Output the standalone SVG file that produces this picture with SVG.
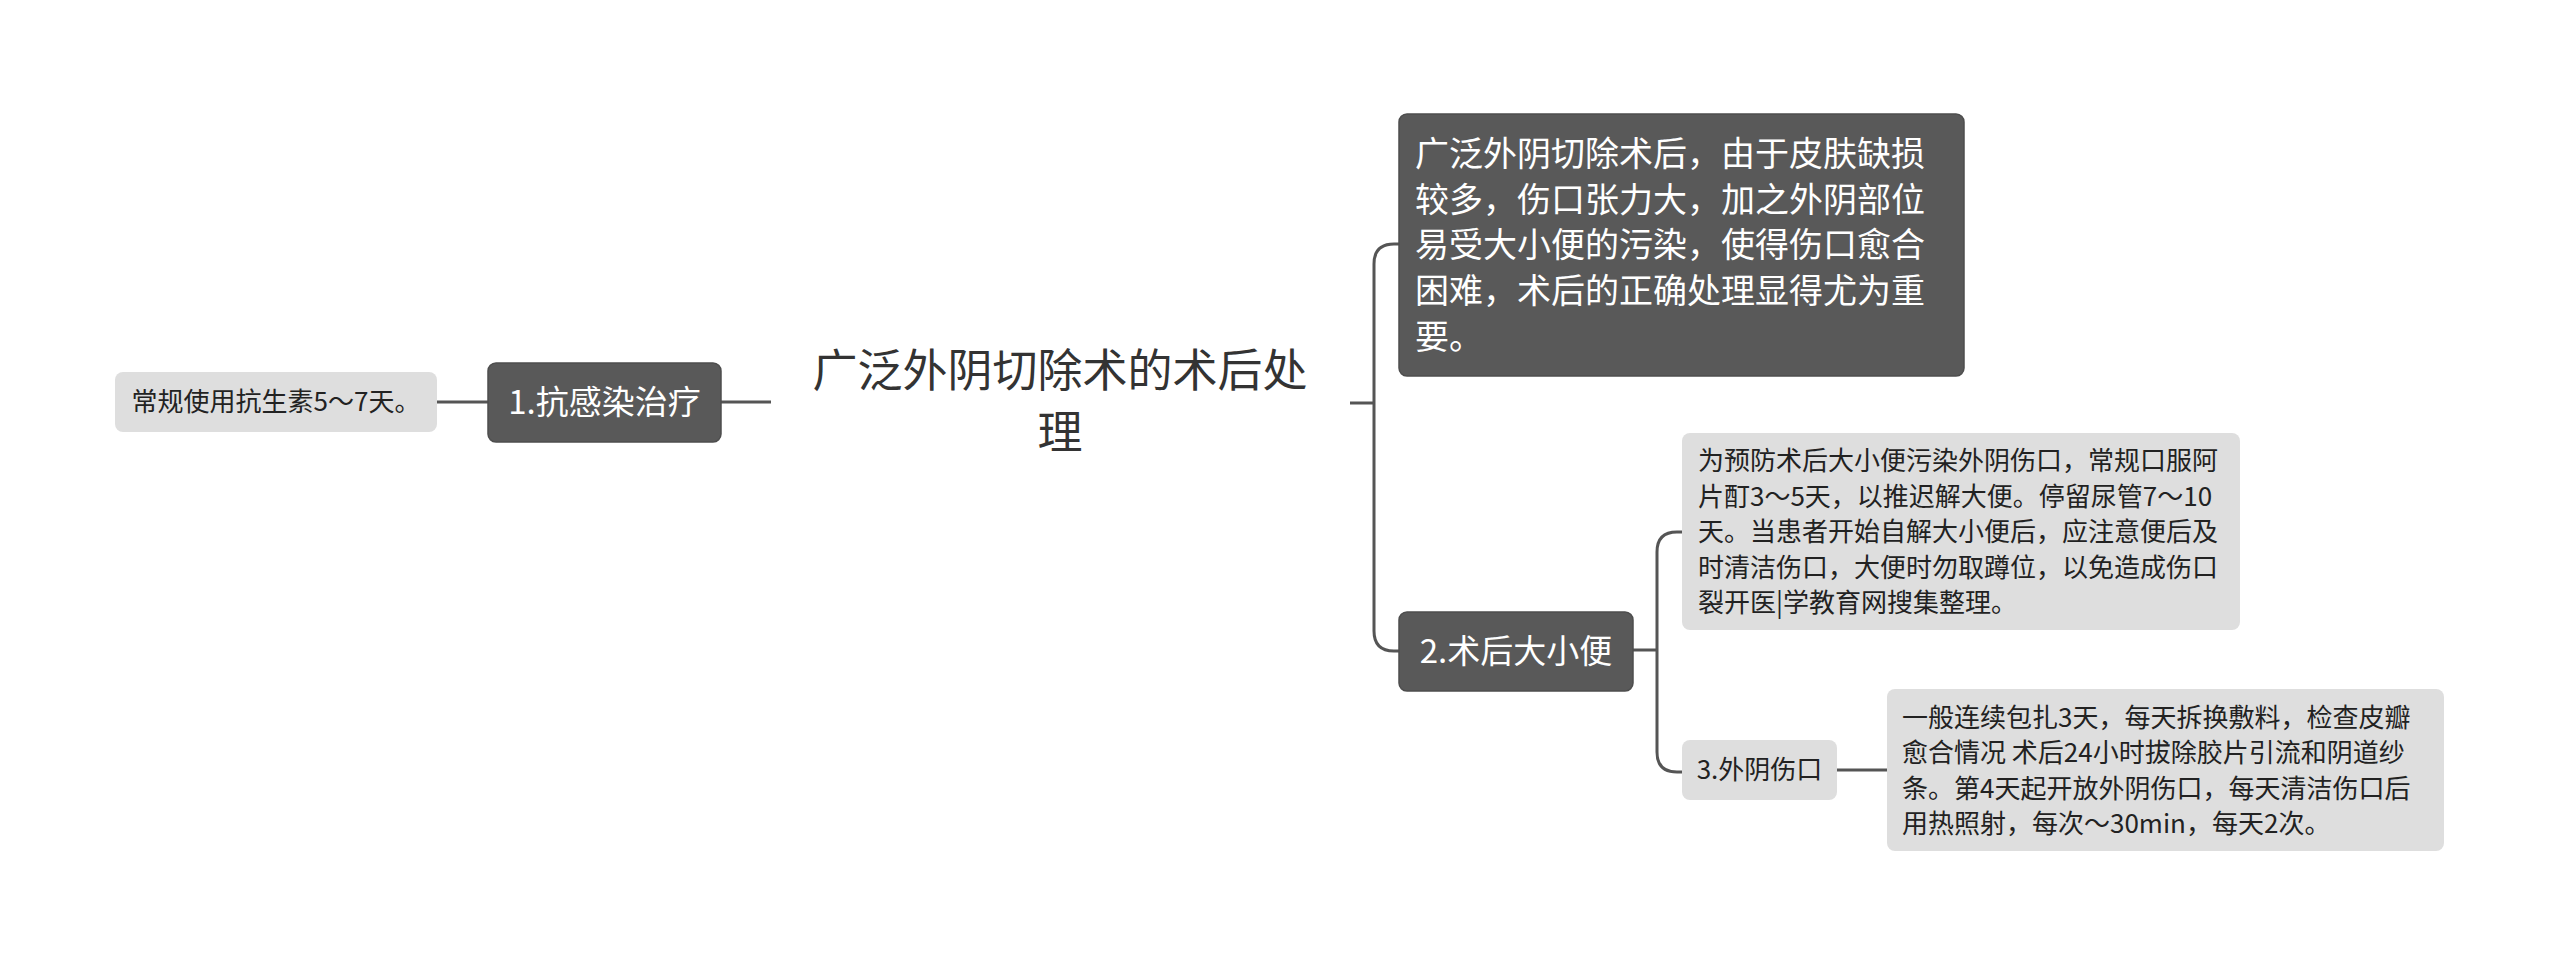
<svg xmlns="http://www.w3.org/2000/svg" width="2560" height="967" viewBox="0 0 2560 967">
<style>
.t{font-family:"Noto Sans CJK SC","Noto Sans",sans-serif}
.dark{fill:#595959;stroke:#4d4d4d;stroke-width:1.5}
.light{fill:#dedede}
.wt{fill:#ffffff}
.bt{fill:#222222}
.c{fill:none;stroke:#555555;stroke-width:3}
</style>
<rect width="2560" height="967" fill="#ffffff"/>
<g id="connectors">
<path class="c" d="M437 402 H488"/>
<path class="c" d="M721 402 H771"/>
<path class="c" d="M1350 403 H1374"/>
<path class="c" d="M1399 244 H1394 Q1374 244 1374 264 V631 Q1374 651 1394 651 H1399"/>
<path class="c" d="M1633 650 H1657"/>
<path class="c" d="M1682 532 H1677 Q1657 532 1657 552 V752 Q1657 772 1677 772 H1682"/>
<path class="c" d="M1837 770 H1887"/>
</g>
<g id="root">
<text class="t" x="1060" y="387" font-size="45" fill="#333333" text-anchor="middle">广泛外阴切除术的术后处</text>
<text class="t" x="1060" y="449" font-size="45" fill="#333333" text-anchor="middle">理</text>
</g>
<g id="node-antiinfection">
<rect class="dark" x="488" y="363" width="233" height="79" rx="8"/>
<text class="t wt" x="604.5" y="414" font-size="33" text-anchor="middle">1.抗感染治疗</text>
</g>
<g id="leaf-antibiotic">
<rect class="light" x="115" y="372" width="322" height="60" rx="8"/>
<text class="t bt" x="276" y="411" font-size="26" text-anchor="middle">常规使用抗生素5～7天。</text>
</g>
<g id="node-intro">
<rect class="dark" x="1399" y="114" width="565" height="262" rx="8"/>
<text class="t wt" font-size="34" x="1415">
<tspan x="1415" y="166">广泛外阴切除术后，由于皮肤缺损</tspan>
<tspan x="1415" y="212">较多，伤口张力大，加之外阴部位</tspan>
<tspan x="1415" y="257">易受大小便的污染，使得伤口愈合</tspan>
<tspan x="1415" y="303">困难，术后的正确处理显得尤为重</tspan>
<tspan x="1415" y="349">要。</tspan>
</text>
</g>
<g id="node-toilet">
<rect class="dark" x="1399" y="612" width="234" height="79" rx="8"/>
<text class="t wt" x="1516" y="663" font-size="33" text-anchor="middle">2.术后大小便</text>
</g>
<g id="leaf-toilet">
<rect class="light" x="1682" y="433" width="558" height="197" rx="8"/>
<text class="t bt" font-size="26">
<tspan x="1698" y="470">为预防术后大小便污染外阴伤口，常规口服阿</tspan>
<tspan x="1698" y="506">片酊3～5天，以推迟解大便。停留尿管7～10</tspan>
<tspan x="1698" y="541">天。当患者开始自解大小便后，应注意便后及</tspan>
<tspan x="1698" y="577">时清洁伤口，大便时勿取蹲位，以免造成伤口</tspan>
<tspan x="1698" y="612">裂开医|学教育网搜集整理。</tspan>
</text>
</g>
<g id="node-wound">
<rect class="light" x="1682" y="740" width="155" height="60" rx="8"/>
<text class="t bt" x="1759.5" y="779" font-size="26" text-anchor="middle">3.外阴伤口</text>
</g>
<g id="leaf-wound">
<rect class="light" x="1887" y="689" width="557" height="162" rx="8"/>
<text class="t bt" font-size="26">
<tspan x="1902" y="727">一般连续包扎3天，每天拆换敷料，检查皮瓣</tspan>
<tspan x="1902" y="762">愈合情况 术后24小时拔除胶片引流和阴道纱</tspan>
<tspan x="1902" y="798">条。第4天起开放外阴伤口，每天清洁伤口后</tspan>
<tspan x="1902" y="833">用热照射，每次～30min，每天2次。</tspan>
</text>
</g>
</svg>
